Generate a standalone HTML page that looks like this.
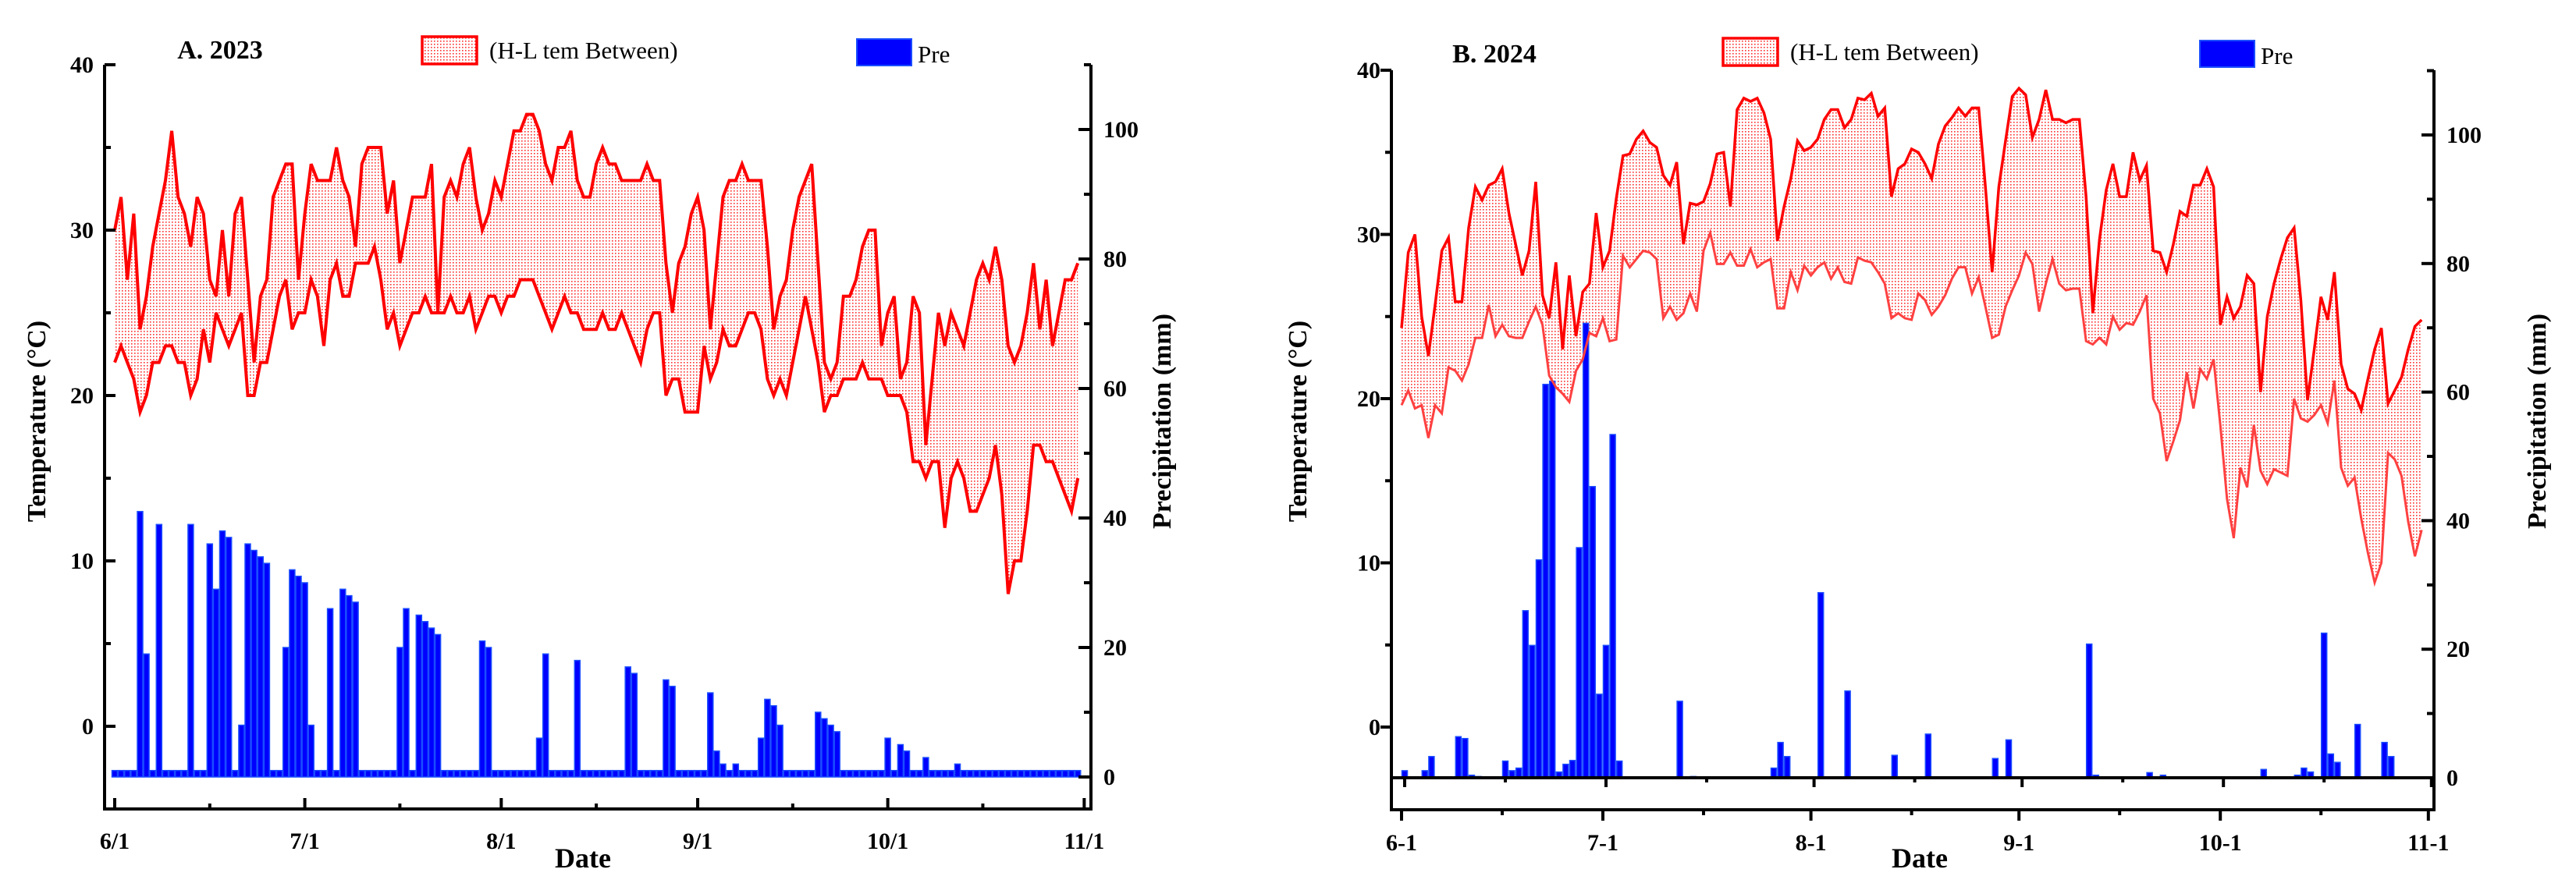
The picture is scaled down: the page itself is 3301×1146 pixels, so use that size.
<!DOCTYPE html>
<html><head><meta charset="utf-8">
<style>
html,body{margin:0;padding:0;background:#fff;}
svg{display:block;font-family:"Liberation Serif","DejaVu Serif",serif;}
text{font-family:"Liberation Serif","DejaVu Serif",serif;}
</style></head>
<body>
<svg id="chart" width="3301" height="1146" viewBox="0 0 3301 1146" xmlns="http://www.w3.org/2000/svg">
<defs>
<pattern id="dots" width="4" height="4" patternUnits="userSpaceOnUse">
<rect width="4" height="4" fill="#fff"/>
<rect x="0" y="0" width="1.6" height="1.6" fill="#ff3030"/>
</pattern>
</defs>
</svg>
<script>
const highA=[30,32,27,31,24,26,29,31,33,36,32,31,29,32,31,27,26,30,26,31,32,27,22,26,27,32,33,34,34,27,31,34,33,33,33,35,33,32,29,34,35,35,35,31,33,28,30,32,32,32,34,25,32,33,32,34,35,32,30,31,33,32,34,36,36,37,37,36,34,33,35,35,36,33,32,32,34,35,34,34,33,33,33,33,34,33,33,28,25,28,29,31,32,30,24,28,32,33,33,34,33,33,33,29,24,26,27,30,32,33,34,28,22,21,22,26,26,27,29,30,30,23,25,26,21,22,26,25,17,21,25,23,25,24,23,25,27,28,27,29,27,23,22,23,25,28,24,27,23,25,27,27,28];
const lowA=[22,23,22,21,19,20,22,22,23,23,22,22,20,21,24,22,25,24,23,24,25,20,20,22,22,24,26,27,24,25,25,27,26,23,27,28,26,26,28,28,28,29,27,24,25,23,24,25,25,26,25,25,25,26,25,25,26,24,25,26,26,25,26,26,27,27,27,26,25,24,25,26,25,25,24,24,24,25,24,24,25,24,23,22,24,25,25,20,21,21,19,19,19,23,21,22,24,23,23,24,25,25,24,21,20,21,20,22,24,26,24,22,19,20,20,21,21,21,22,21,21,21,20,20,20,19,16,16,15,16,16,12,15,16,15,13,13,14,15,17,14,8,10,10,13,17,17,16,16,15,14,13,15];
const preA=[1,1,1,1,41,19,1,39,1,1, 1,1,39,1,1,36,29,38,37,1, 8,36,35,34,33,1,1,20,32,31, 30,8,1,1,26,1,29,28,27,1, 1,1,1,1,1,20,26,1,25,24, 23,22,1,1,1,1,1,1,21,20, 1,1,1,1,1,1,1,6,19,1, 1,1,1,18,1,1,1,1,1,1, 1,17,16,1,1,1,1,15,14,1, 1,1,1,1,13,4,2,1,2,1, 1,1,6,12,11,8,1,1,1,1, 1,10,9,8,7,1,1,1,1,1, 1,1,6,1,5,4,1,1,3,1, 1,1,1,2,1,1,1,1,1,1, 1,1,1,1,1,1,1,1,1,1, 1,1,1];
const highB=[24.3,28.9,30.0,25.0,22.6,25.7,29.0,29.8,25.9,25.9, 30.4,32.9,32.1,33.0,33.2,34.0,31.3,29.4,27.5,29.0, 33.2,26.3,24.9,28.3,23.0,27.5,23.8,26.5,27.0,31.3, 28.0,29.0,32.2,34.8,34.9,35.8,36.3,35.6,35.3,33.6, 33.0,34.4,29.4,31.9,31.8,32.0,33.1,34.9,35.0,31.7, 37.6,38.3,38.1,38.3,37.4,35.8,29.6,31.7,33.4,35.7, 35.1,35.3,35.8,37.0,37.6,37.6,36.5,37.0,38.3,38.2, 38.6,37.2,37.7,32.3,34.0,34.3,35.2,35.0,34.3,33.4, 35.5,36.6,37.1,37.7,37.2,37.7,37.7,32.9,27.7,32.9, 35.7,38.4,38.9,38.5,35.9,37.0,38.8,37.0,37.0,36.8, 37.0,37.0,32.3,25.2,29.7,32.7,34.3,32.3,32.3,35.0, 33.3,34.2,29.0,28.9,27.7,29.4,31.4,31.1,33.0,33.0, 34.0,32.9,24.5,26.2,24.9,25.6,27.5,27.0, 20.4,25.0,27.0,28.5,29.8,30.4,26.0,19.9,23.0,26.2,24.8,27.7,22.1,20.6,20.3,19.3,21.2,23.0,24.3,19.7,20.5,21.3,23.0,24.4,24.8];
const lowB=[19.6,20.5,19.4,19.6,17.6,19.6,19.1,21.9,21.7,21.1, 22.1,23.7,23.7,25.7,23.8,24.5,23.8,23.7,23.7,24.7, 25.6,24.5,21.4,20.7,20.3,19.8,21.7,22.4,24.0,23.8, 24.9,23.5,23.6,28.7,28.0,28.5,29.0,28.9,28.5,24.9, 25.6,24.8,25.2,26.4,25.3,29.0,30.1,28.2,28.2,28.9, 28.1,28.1,29.1,28.0,28.3,28.5,25.5,25.5,27.7,26.6, 28.1,27.5,28.0,28.3,27.3,28.0,27.1,27.0,28.6,28.4, 28.3,27.7,27.0,24.9,25.2,24.9,24.8,26.4,26.0,25.1, 25.6,26.3,27.3,28.0,28.0,26.4,27.4,25.6,23.7,23.9, 25.6,26.6,27.5,28.9,28.2,25.3,27.0,28.5,27.0,26.6, 26.7,26.7,23.5,23.3,23.7,23.3,25.0,24.2,24.6,24.5, 25.3,26.3,20.0,19.1,16.2,17.4,18.7,21.6,19.4,21.8, 21.2,22.4,18.4,13.9,11.5,15.8,14.6,18.4, 15.6,14.8,15.7,15.5,15.3,20.0,18.8,18.6,19.0,19.6,18.5,21.1,15.8,14.7,15.2,12.7,10.6,8.8,10.0,16.7,16.3,15.3,12.5,10.4,12.0];
const preB=[1.1,0,0,1.1,3.3,0,0,0,6.4,6.1, 0.4,0.2,0,0,0,2.6,1.1,1.5,26,20.6, 33.9,61.2,61.7,0.9,2.1,2.7,35.8,70.7,45.3,13, 20.6,53.4,2.6,0,0,0,0,0,0,0, 0,11.9,0,0.2,0,0,0,0,0,0, 0,0,0,0,0,1.5,5.5,3.3,0,0, 0,0,28.8,0,0,0,13.5,0,0,0, 0,0,0,3.5,0,0,0,0,6.8,0, 0,0,0,0,0,0,0,0,3.0,0, 5.9,0,0,0,0,0,0,0,0,0, 0,0,20.8,0.4,0,0,0,0,0,0, 0,0.8,0,0.4,0,0,0,0,0,0, 0,0,0,0,0,0,0,0,1.3,0, 0,0,0,0.4,1.5,0.9,0,22.5,3.7,2.4, 0,0,8.3,0,0,0,5.5,3.3,0,0, 0,0,0];
const monthDaysIdx=[0,30,61,92,122,153];
const monthLabelsA=["6/1","7/1","8/1","9/1","10/1","11/1"];
const monthLabelsB=["6-1","7-1","8-1","9-1","10-1","11-1"];
const tempTicks=[0,10,20,30,40];
const preTicks=[0,20,40,60,80,100];

const NS="http://www.w3.org/2000/svg";
const FF='"Liberation Serif","DejaVu Serif",serif';
const svg=document.getElementById('chart');
function mk(tag,attrs,parent){const e=document.createElementNS(NS,tag);for(const k in attrs)e.setAttribute(k,attrs[k]);if(tag==='text')e.setAttribute('font-family',FF);(parent||svg).appendChild(e);return e;}

function panel(c,high,low,pre,labels){
  const g=mk('g',{});
  
  
  const tx=d=>c.x0+c.dw*d;
  const bx=d=>c.bx0+c.dw*d;
  const ty=t=>c.t0-c.tpx*t;
  const py=m=>c.p0-c.ppx*m;
  let pts=[];
  for(let i=0;i<high.length;i++)pts.push(tx(i).toFixed(1)+','+ty(high[i]).toFixed(1));
  for(let i=low.length-1;i>=0;i--)pts.push(tx(i).toFixed(1)+','+ty(low[i]).toFixed(1));
  const band=mk('polygon',{points:pts.join(' '),fill:'url(#dots)',stroke:'none'},g);
  
  
  const bg=mk('g',{},g);
  
  
  for(let i=0;i<pre.length;i++){
    if(pre[i]<=0)continue;
    const y=py(pre[i]);
    const r=mk('rect',{x:(bx(i)-c.bw/2).toFixed(1),y:y.toFixed(1),width:c.bw,height:(c.p0-y).toFixed(1),fill:'#0000ff',stroke:'#1a4dff','stroke-width':1.5},bg);
    
    
  }
  const hl=mk('polyline',{points:high.map((v,i)=>tx(i).toFixed(1)+','+ty(v).toFixed(1)).join(' '),fill:'none',stroke:'#ff0000','stroke-width':c.lw,'stroke-linejoin':'miter'},g);
  
  
  const ll=mk('polyline',{points:low.map((v,i)=>tx(i).toFixed(1)+','+ty(v).toFixed(1)).join(' '),fill:'none',stroke:c.lowColor,'stroke-width':c.lw2,'stroke-linejoin':'miter'},g);
  
  
  const ax=mk('g',{stroke:'#000','stroke-width':4,fill:'none'},g);
  
  
  mk('line',{x1:c.xL,y1:c.top,x2:c.xL,y2:c.bot+2},ax);
  mk('line',{x1:c.xR,y1:c.top,x2:c.xR,y2:c.bot+2},ax);
  mk('line',{x1:c.xL-2,y1:c.bot,x2:c.xR+2,y2:c.bot},ax);
  if(c.barAxis){mk('line',{x1:c.xL,y1:c.p0,x2:c.xR,y2:c.p0},ax);}
  const dir=c.tickIn?1:-1;
  for(let t=0;t<=40;t+=5){
    const y=ty(t);const L=(t%10===0)?14:8;
    mk('line',{x1:c.xL,y1:y,x2:c.xL+dir*L,y2:y},ax);
  }
  tempTicks.forEach(t=>{
    const e=mk('text',{x:c.xL-14,y:ty(t)+10,'text-anchor':'end','font-size':30,'font-weight':'bold',fill:'#000',stroke:'none'},g);
    e.textContent=t;
    
    
  });
  for(let m=0;m<=110;m+=10){
    const y=py(m);const L=(m%20===0)?16:9;
    mk('line',{x1:c.xR,y1:y,x2:c.xR-L,y2:y},ax);
  }
  preTicks.forEach(m=>{
    const e=mk('text',{x:c.xR+16,y:py(m)+10,'text-anchor':'start','font-size':30,'font-weight':'bold',fill:'#000',stroke:'none'},g);
    e.textContent=m;
    
    
  });
  monthDaysIdx.forEach((d,k)=>{
    const x=tx(d);
    mk('line',{x1:x,y1:c.bot,x2:x,y2:c.bot+c.xdir*14},ax);
    if(c.barAxis){const xb=bx(d);mk('line',{x1:xb,y1:c.p0,x2:xb,y2:c.p0+12},ax);}
    if(k<5){
      mk('line',{x1:tx(d+15),y1:c.bot,x2:tx(d+15),y2:c.bot+c.xdir*7},ax);
      if(c.barAxis)mk('line',{x1:bx(d+15),y1:c.p0,x2:bx(d+15),y2:c.p0+6},ax);
    }
    const e=mk('text',{x:x,y:c.xlabY,'text-anchor':'middle','font-size':30,'font-weight':'bold',fill:'#000'},g);
    e.textContent=labels[k];
    
    
  });
  const t1=mk('text',{x:c.titleX,y:c.titleY,'text-anchor':'middle','font-size':34,'font-weight':'bold',fill:'#000'},g);
  t1.textContent=c.title;
  
  
  const dl=mk('text',{x:c.dateX,y:1112,'text-anchor':'middle','font-size':36,'font-weight':'bold',fill:'#000'},g);
  dl.textContent='Date';
  
  
  const yl=mk('text',{x:0,y:0,transform:'translate('+c.ylX+',540) rotate(-90)','text-anchor':'middle','font-size':34,'font-weight':'bold',fill:'#000'},g);
  yl.textContent='Temperature (°C)';
  
  
  const yr=mk('text',{x:0,y:0,transform:'translate('+c.yrX+',540) rotate(-90)','text-anchor':'middle','font-size':34,'font-weight':'bold',fill:'#000'},g);
  yr.textContent='Precipitation (mm)';
  
  
  const lg1=mk('g',{},g);
  
  
  mk('rect',{x:c.lg1x,y:c.lgy,width:70,height:35,fill:'url(#dots)',stroke:'#ff0000','stroke-width':3.5},lg1);
  const lt1=mk('text',{x:c.lg1x+86,y:c.lgy+28,'font-size':31,fill:'#000'},lg1);
  lt1.textContent='(H-L tem Between)';
  const lg2=mk('g',{},g);
  
  
  mk('rect',{x:c.lg2x,y:c.lgy+3,width:70,height:34,fill:'#0000ff',stroke:'#1a4dff','stroke-width':2},lg2);
  const lt2=mk('text',{x:c.lg2x+78,y:c.lgy+33,'font-size':31,fill:'#000'},lg2);
  lt2.textContent='Pre';
}

panel({name:'panel-a-2023',x0:147,bx0:147,dw:8.12,bw:7,t0:931,tpx:21.2,p0:996,ppx:8.3,
  xL:134,xR:1398,top:83,bot:1037,tickIn:true,xdir:-1,barAxis:false,xlabY:1088,
  lw:4,lw2:4,lowColor:'#ff0000',title:'A. 2023',titleX:282,titleY:75,dateX:747,
  ylX:58,yrX:1500,lg1x:541,lg2x:1098,lgy:47},highA,lowA,preA,monthLabelsA);

panel({name:'panel-b-2024',x0:1796,bx0:1800,dw:8.6,bw:7,t0:932,tpx:21.05,p0:997,ppx:8.24,
  xL:1783,xR:3119,top:90,bot:1038,tickIn:false,xdir:1,barAxis:true,xlabY:1090,
  lw:3.5,lw2:3,lowColor:'#ff4040',title:'B. 2024',titleX:1915,titleY:80,dateX:2460,
  ylX:1674,yrX:3262,lg1x:2208,lg2x:2819,lgy:49},highB,lowB,preB,monthLabelsB);
</script>
</body></html>
